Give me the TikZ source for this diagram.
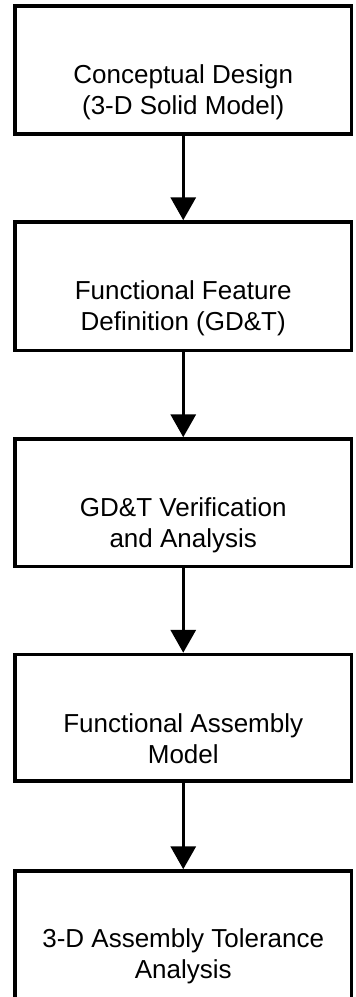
\documentclass[tikz,border=0pt]{standalone}
\usepackage{fontspec}
\setmainfont{Liberation Sans}
\usetikzlibrary{arrows.meta}
\tikzset{
  stagebox/.style={draw=black, line width=3.5pt, rectangle, minimum width=336.5pt, inner sep=0pt},
  stagetext/.style={anchor=base, align=center, inner sep=0pt, font=\fontsize{26}{31}\selectfont},
  flowarrow/.style={draw=black, line width=3.5pt, -{Triangle[width=25pt,length=23pt]}}
}
\begin{document}
\begin{tikzpicture}[x=1pt,y=-1pt]
\useasboundingbox (0,0) rectangle (356,997);
\fill[white] (0,0) rectangle (356,997);
\clip (0,0) rectangle (356,997);
\node[stagebox, minimum height=128pt] (b1) at (183.25,70) {};
\node[stagebox, minimum height=128.5pt] (b2) at (183.25,286.25) {};
\node[stagebox, minimum height=127.5pt] (b3) at (183.25,502.75) {};
\node[stagebox, minimum height=126.5pt] (b4) at (183.25,717.75) {};
\node[stagebox, minimum height=170pt] (b5) at (183.25,956) {};
\node[stagetext] (t1) at (183.25,114) {Conceptual Design\\(3-D Solid Model)};
\node[stagetext] (t2) at (183.25,330) {Functional Feature\\Definition (GD\&T)};
\node[stagetext] (t3) at (183.25,547) {GD\&T Verification\\and Analysis};
\node[stagetext] (t4) at (183.25,763) {Functional Assembly\\Model};
\node[stagetext] (t5) at (183.25,978) {3-D Assembly Tolerance\\Analysis};
\draw[flowarrow] (b1.south) -- (b2.north);
\draw[flowarrow] (b2.south) -- (b3.north);
\draw[flowarrow] (b3.south) -- (b4.north);
\draw[flowarrow] (b4.south) -- (b5.north);
\end{tikzpicture}
\end{document}
